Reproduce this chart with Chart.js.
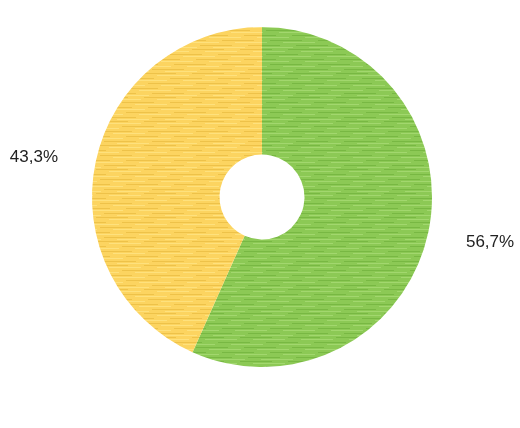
<!DOCTYPE html>
<html>
<head>
<meta charset="utf-8">
<script src="https://cdn.jsdelivr.net/npm/chart.js@4/dist/chart.umd.min.js"></script>
<style>
  html, body { margin: 0; padding: 0; background: #fff; }
  #wrap { width: 520px; height: 428px; }
</style>
</head>
<body>
<div id="wrap"><canvas id="pieChart"></canvas></div>
<script>
const categories = ['Green', 'Yellow'];
const shares = [56.7, 43.3];
const percentLabels = ['56,7%', '43,3%'];

// striped "paper" texture for each slice
function makeTexture(base, light, dark) {
    const c = document.createElement('canvas');
    c.width = 48; c.height = 24;
    const g = c.getContext('2d');
    g.fillStyle = base;
    g.fillRect(0, 0, 48, 24);
    const rows = [1, 3, 6, 8, 11, 13, 16, 18, 21, 23];
    rows.forEach((y, i) => {
        g.fillStyle = i % 2 ? light : dark;
        const off = (i * 13) % 48;
        g.fillRect(off, y, 32, 1);
        g.fillRect(off - 48, y, 32, 1);
    });
    return g.createPattern(c, 'repeat');
}

const greenFill = makeTexture('#8cc955', '#a2d76e', '#78b843');
const yellowFill = makeTexture('#fcd460', '#fee17d', '#eec249');

const outsideLabels = {
    id: 'outsideLabels',
    afterDatasetsDraw(chart) {
        const c = chart.ctx;
        const meta = chart.getDatasetMeta(0);
        c.save();
        c.font = '17px Arial, "Liberation Sans", sans-serif';
        c.fillStyle = '#222';
        c.textAlign = 'center';
        c.textBaseline = 'middle';
        meta.data.forEach((arc, i) => {
            const p = arc.getProps(['x', 'y', 'startAngle', 'endAngle', 'outerRadius']);
            const mid = (p.startAngle + p.endAngle) / 2 - 0.026;
            const r = p.outerRadius + 62;
            c.fillText(percentLabels[i], p.x + Math.cos(mid) * r, p.y + Math.sin(mid) * r + 3);
        });
        c.restore();
    }
};

new Chart(document.getElementById('pieChart'), {
    type: 'doughnut',
    data: {
        labels: categories,
        datasets: [{
            data: shares,
            backgroundColor: [greenFill, yellowFill],
            borderWidth: 0
        }]
    },
    options: {
        responsive: true,
        maintainAspectRatio: false,
        animation: false,
        cutout: '25%',
        layout: { padding: { left: 92, right: 88, top: 27, bottom: 61 } },
        plugins: {
            legend: { display: false },
            tooltip: { enabled: false }
        }
    },
    plugins: [outsideLabels]
});
</script>
</body>
</html>
